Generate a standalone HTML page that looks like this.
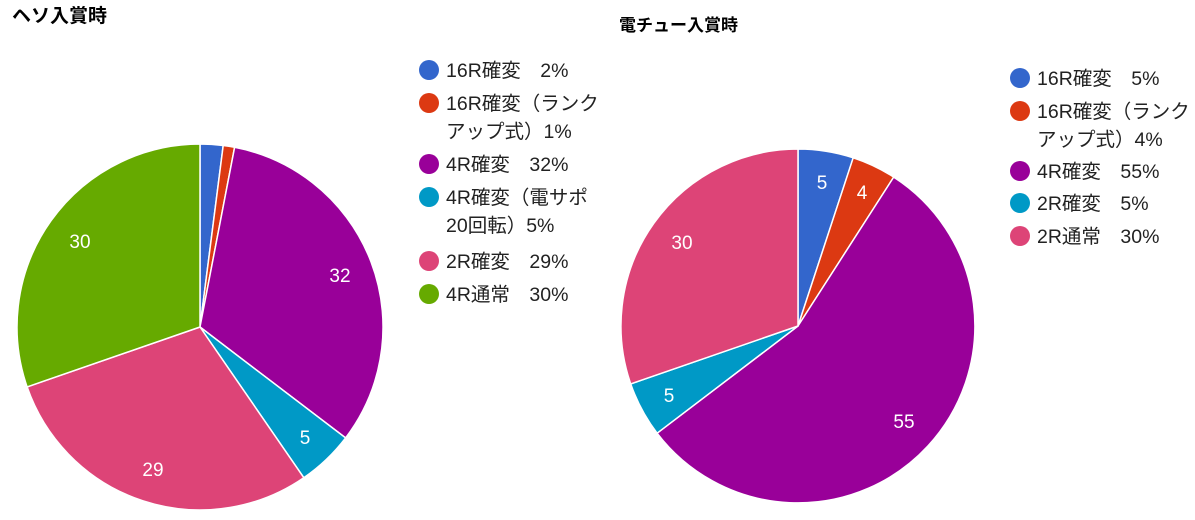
<!DOCTYPE html>
<html><head><meta charset="utf-8"><style>
body{margin:0;background:#fff;width:1195px;height:515px;overflow:hidden}
svg text{font-family:"Liberation Sans","Noto Sans CJK JP",sans-serif}
</style></head><body>
<svg width="1195" height="515" xmlns="http://www.w3.org/2000/svg">
<text x="12" y="22" font-size="19" font-weight="bold" fill="#000">ヘソ入賞時</text>
<text x="619" y="31" font-size="17" font-weight="bold" fill="#000">電チュー入賞時</text>
<g stroke="#fff" stroke-width="1.5">
<path d="M200,327 L200,144 A183,183 0 0 1 223.2,145.5 Z" fill="#3366cc"/>
<path d="M200,327 L223.2,145.5 A183,183 0 0 1 234.6,147.3 Z" fill="#dc3912"/>
<path d="M200,327 L234.6,147.3 A183,183 0 0 1 345.6,437.9 Z" fill="#990099"/>
<path d="M200,327 L345.6,437.9 A183,183 0 0 1 303.8,477.7 Z" fill="#0099c6"/>
<path d="M200,327 L303.8,477.7 A183,183 0 0 1 27.1,386.9 Z" fill="#dd4477"/>
<path d="M200,327 L27.1,386.9 A183,183 0 0 1 200,144 Z" fill="#66aa00"/>
<path d="M798,326 L798,149 A177,177 0 0 1 853.2,157.8 Z" fill="#3366cc"/>
<path d="M798,326 L853.2,157.8 A177,177 0 0 1 893.7,177.1 Z" fill="#dc3912"/>
<path d="M798,326 L893.7,177.1 A177,177 0 1 1 657.1,433.2 Z" fill="#990099"/>
<path d="M798,326 L657.1,433.2 A177,177 0 0 1 630.7,383.9 Z" fill="#0099c6"/>
<path d="M798,326 L630.7,383.9 A177,177 0 0 1 798,149 Z" fill="#dd4477"/>
</g>
<g fill="#fff" font-size="19" text-anchor="middle">
<text x="340" y="282">32</text><text x="305" y="444">5</text><text x="153" y="476">29</text><text x="80" y="248">30</text>
<text x="822" y="189">5</text><text x="862" y="199">4</text><text x="904" y="428">55</text><text x="669" y="402">5</text><text x="682" y="249">30</text>
</g>
<g font-size="19.5" fill="#222">
<circle cx="429" cy="70" r="10" fill="#3366cc"/><text x="446" y="77">16R確変　2%</text>
<circle cx="429" cy="103" r="10" fill="#dc3912"/><text x="446" y="110">16R確変（ランク</text><text x="446" y="138">アップ式）1%</text>
<circle cx="429" cy="164" r="10" fill="#990099"/><text x="446" y="171">4R確変　32%</text>
<circle cx="429" cy="197" r="10" fill="#0099c6"/><text x="446" y="204">4R確変（電サポ</text><text x="446" y="232">20回転）5%</text>
<circle cx="429" cy="261" r="10" fill="#dd4477"/><text x="446" y="268">2R確変　29%</text>
<circle cx="429" cy="294" r="10" fill="#66aa00"/><text x="446" y="301">4R通常　30%</text>
<circle cx="1020" cy="78" r="10" fill="#3366cc"/><text x="1037" y="85">16R確変　5%</text>
<circle cx="1020" cy="111" r="10" fill="#dc3912"/><text x="1037" y="118">16R確変（ランク</text><text x="1037" y="146">アップ式）4%</text>
<circle cx="1020" cy="171" r="10" fill="#990099"/><text x="1037" y="178">4R確変　55%</text>
<circle cx="1020" cy="203" r="10" fill="#0099c6"/><text x="1037" y="210">2R確変　5%</text>
<circle cx="1020" cy="236" r="10" fill="#dd4477"/><text x="1037" y="243">2R通常　30%</text>
</g>
</svg>
</body></html>
